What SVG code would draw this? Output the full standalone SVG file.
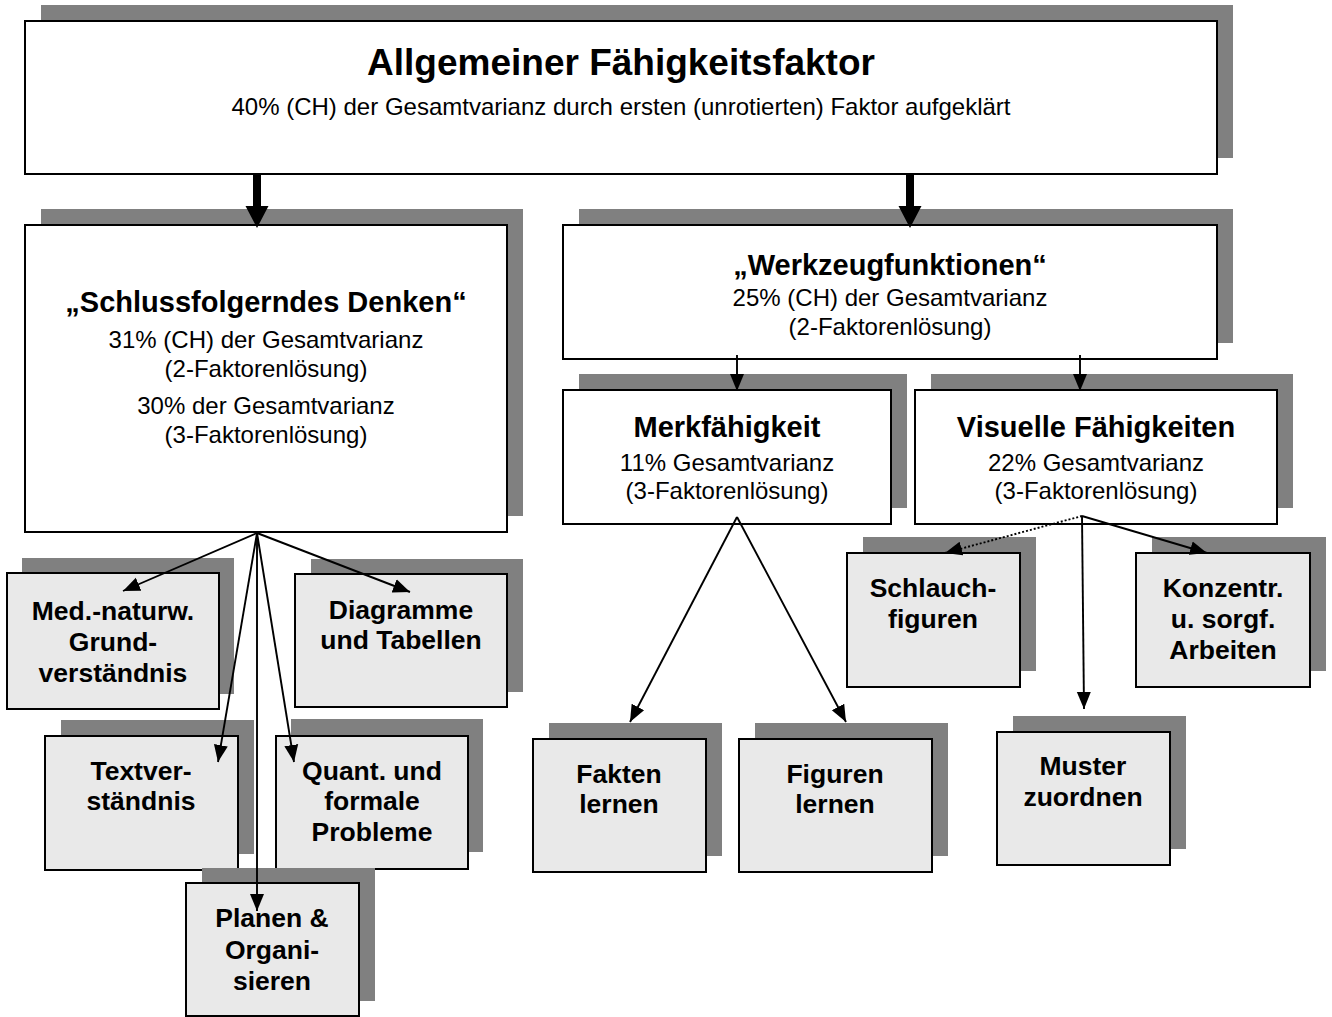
<svg xmlns="http://www.w3.org/2000/svg" width="1332" height="1017" viewBox="0 0 1332 1017">
<style>
.sh{fill:#808080}
.bw{fill:#ffffff;stroke:#000;stroke-width:2}
.bg{fill:#e9e9e9;stroke:#000;stroke-width:2}
text{font-family:"Liberation Sans",Arial,sans-serif;fill:#000;text-anchor:middle}
.t0{font-size:37px;font-weight:bold}
.t1{font-size:29px;font-weight:bold}
.t2{font-size:24px}
.t3{font-size:26.5px;font-weight:bold}
.ln{stroke:#000;stroke-width:1.9;fill:none}
.dot{stroke:#000;stroke-width:1.9;fill:none;stroke-dasharray:2,2}
</style>
<defs>
<marker id="ah" markerUnits="userSpaceOnUse" markerWidth="18" markerHeight="16" refX="17" refY="8" orient="auto">
<path d="M0,1 L17,8 L0,15 z" fill="#000"/>
</marker>
</defs>

<g id="n-allgemein">
<rect class="sh" x="41" y="5" width="1192" height="153"/>
<rect class="bw" x="25" y="21" width="1192" height="153"/>
<text class="t0" x="621" y="75">Allgemeiner Fähigkeitsfaktor</text>
<text class="t2" x="621" y="115">40% (CH) der Gesamtvarianz durch ersten (unrotierten) Faktor aufgeklärt</text>
</g>

<g id="n-schluss">
<rect class="sh" x="41" y="209" width="482" height="307"/>
<rect class="bw" x="25" y="225" width="482" height="307"/>
<text class="t1" x="266" y="312">„Schlussfolgerndes Denken“</text>
<text class="t2" x="266" y="348">31% (CH) der Gesamtvarianz</text>
<text class="t2" x="266" y="377">(2-Faktorenlösung)</text>
<text class="t2" x="266" y="414">30% der Gesamtvarianz</text>
<text class="t2" x="266" y="443">(3-Faktorenlösung)</text>
</g>

<g id="n-werkzeug">
<rect class="sh" x="579" y="209" width="654" height="134"/>
<rect class="bw" x="563" y="225" width="654" height="134"/>
<text class="t1" x="890" y="275">„Werkzeugfunktionen“</text>
<text class="t2" x="890" y="306">25% (CH) der Gesamtvarianz</text>
<text class="t2" x="890" y="335">(2-Faktorenlösung)</text>
</g>

<g id="n-merk">
<rect class="sh" x="579" y="374" width="328" height="134"/>
<rect class="bw" x="563" y="390" width="328" height="134"/>
<text class="t1" x="727" y="437">Merkfähigkeit</text>
<text class="t2" x="727" y="471">11% Gesamtvarianz</text>
<text class="t2" x="727" y="499">(3-Faktorenlösung)</text>
</g>

<g id="n-visuell">
<rect class="sh" x="931" y="374" width="362" height="134"/>
<rect class="bw" x="915" y="390" width="362" height="134"/>
<text class="t1" x="1096" y="437">Visuelle Fähigkeiten</text>
<text class="t2" x="1096" y="471">22% Gesamtvarianz</text>
<text class="t2" x="1096" y="499">(3-Faktorenlösung)</text>
</g>

<g id="n-med">
<rect class="sh" x="22" y="558" width="212" height="136"/>
<rect class="bg" x="7" y="573" width="212" height="136"/>
<text class="t3" x="113" y="620">Med.-naturw.</text>
<text class="t3" x="113" y="651">Grund-</text>
<text class="t3" x="113" y="682">verständnis</text>
</g>

<g id="n-diagramme">
<rect class="sh" x="311" y="559" width="212" height="133"/>
<rect class="bg" x="295" y="574" width="212" height="133"/>
<text class="t3" x="401" y="619">Diagramme</text>
<text class="t3" x="401" y="649">und Tabellen</text>
</g>

<g id="n-textverst">
<rect class="sh" x="61" y="720" width="193" height="134"/>
<rect class="bg" x="45" y="736" width="193" height="134"/>
<text class="t3" x="141" y="780">Textver-</text>
<text class="t3" x="141" y="810">ständnis</text>
</g>

<g id="n-quant">
<rect class="sh" x="291" y="719" width="192" height="133"/>
<rect class="bg" x="276" y="736" width="192" height="133"/>
<text class="t3" x="372" y="780">Quant. und</text>
<text class="t3" x="372" y="810">formale</text>
<text class="t3" x="372" y="841">Probleme</text>
</g>

<g id="n-planen">
<rect class="sh" x="202" y="868" width="173" height="133"/>
<rect class="bg" x="186" y="883" width="173" height="133"/>
<text class="t3" x="272" y="927">Planen &amp;</text>
<text class="t3" x="272" y="959">Organi-</text>
<text class="t3" x="272" y="990">sieren</text>
</g>

<g id="n-fakten">
<rect class="sh" x="549" y="723" width="173" height="133"/>
<rect class="bg" x="533" y="739" width="173" height="133"/>
<text class="t3" x="619" y="783">Fakten</text>
<text class="t3" x="619" y="813">lernen</text>
</g>

<g id="n-figuren">
<rect class="sh" x="755" y="723" width="193" height="133"/>
<rect class="bg" x="739" y="739" width="193" height="133"/>
<text class="t3" x="835" y="783">Figuren</text>
<text class="t3" x="835" y="813">lernen</text>
</g>

<g id="n-schlauch">
<rect class="sh" x="863" y="537" width="173" height="134"/>
<rect class="bg" x="847" y="553" width="173" height="134"/>
<text class="t3" x="933" y="597">Schlauch-</text>
<text class="t3" x="933" y="628">figuren</text>
</g>

<g id="n-konzentr">
<rect class="sh" x="1152" y="537" width="174" height="134"/>
<rect class="bg" x="1136" y="553" width="174" height="134"/>
<text class="t3" x="1223" y="597">Konzentr.</text>
<text class="t3" x="1223" y="628">u. sorgf.</text>
<text class="t3" x="1223" y="659">Arbeiten</text>
</g>

<g id="n-muster">
<rect class="sh" x="1013" y="716" width="173" height="133"/>
<rect class="bg" x="997" y="732" width="173" height="133"/>
<text class="t3" x="1083" y="775">Muster</text>
<text class="t3" x="1083" y="806">zuordnen</text>
</g>

<g id="connectors">
<path d="M253,173 V206 H245.5 L257,228 L268.5,206 H261 V173 z" fill="#000"/>
<path d="M906,173 V206 H898.5 L910,228 L921.5,206 H914 V173 z" fill="#000"/>
<line class="ln" x1="257" y1="533" x2="123" y2="591" marker-end="url(#ah)"/>
<line class="ln" x1="257" y1="533" x2="410" y2="592" marker-end="url(#ah)"/>
<line class="ln" x1="257" y1="533" x2="218" y2="762" marker-end="url(#ah)"/>
<line class="ln" x1="257" y1="533" x2="294" y2="762" marker-end="url(#ah)"/>
<line class="ln" x1="257" y1="533" x2="257" y2="911" marker-end="url(#ah)"/>
<line class="ln" x1="737" y1="355" x2="737" y2="391" marker-end="url(#ah)"/>
<line class="ln" x1="1080" y1="355" x2="1080" y2="391" marker-end="url(#ah)"/>
<line class="ln" x1="737" y1="517" x2="630" y2="722" marker-end="url(#ah)"/>
<line class="ln" x1="737" y1="517" x2="846" y2="722" marker-end="url(#ah)"/>
<line class="dot" x1="1082" y1="516" x2="945" y2="553" marker-end="url(#ah)"/>
<line class="ln" x1="1082" y1="516" x2="1207" y2="553" marker-end="url(#ah)"/>
<line class="ln" x1="1082" y1="516" x2="1084" y2="709" marker-end="url(#ah)"/>
</g>
</svg>
